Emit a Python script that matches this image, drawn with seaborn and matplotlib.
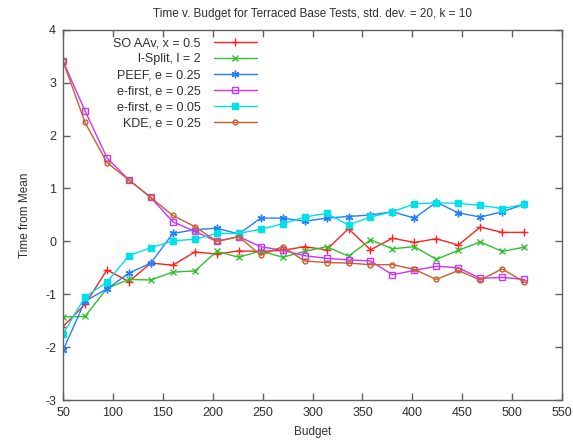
import numpy as np
import pandas as pd
import matplotlib
matplotlib.use("Agg")
import matplotlib.pyplot as plt
import seaborn as sns

# data
budget = [50, 72, 94, 116, 138, 160, 182, 204, 226, 248, 270,
          292, 314, 336, 358, 380, 402, 424, 446, 468, 490, 512]

soaav = [-1.61, -1.19, -0.54, -0.76, -0.41, -0.45, -0.20, -0.24, -0.18, -0.19, -0.17,
         -0.10, -0.16, 0.24, -0.16, 0.06, -0.02, 0.05, -0.07, 0.27, 0.17, 0.17]
lsplit = [-1.43, -1.42, -0.89, -0.72, -0.73, -0.58, -0.56, -0.19, -0.30, -0.18, -0.30,
          -0.19, -0.10, -0.28, 0.03, -0.14, -0.10, -0.34, -0.17, -0.01, -0.19, -0.11]
peef = [-2.06, -1.13, -0.90, -0.60, -0.41, 0.15, 0.22, 0.25, 0.14, 0.44, 0.44,
        0.38, 0.44, 0.47, 0.50, 0.56, 0.44, 0.74, 0.54, 0.46, 0.56, 0.70]
efirst_25 = [3.41, 2.47, 1.58, 1.16, 0.83, 0.37, 0.19, 0.00, 0.09, -0.10, -0.17,
             -0.27, -0.32, -0.35, -0.37, -0.63, -0.55, -0.47, -0.50, -0.70, -0.68, -0.72]
efirst_05 = [-1.75, -1.05, -0.77, -0.27, -0.12, 0.01, 0.04, 0.15, 0.15, 0.23, 0.33,
             0.46, 0.53, 0.31, 0.46, 0.56, 0.71, 0.73, 0.72, 0.68, 0.62, 0.70]
kde = [3.41, 2.25, 1.49, 1.16, 0.83, 0.49, 0.28, 0.00, 0.09, -0.26, -0.10,
       -0.37, -0.40, -0.41, -0.44, -0.44, -0.53, -0.72, -0.55, -0.73, -0.52, -0.77]

labels = ["SO AAv, x = 0.5", "l-Split, l = 2", "PEEF, e = 0.25",
          "e-first, e = 0.25", "e-first, e = 0.05", "KDE, e = 0.25"]
series = [soaav, lsplit, peef, efirst_25, efirst_05, kde]

sns.set_style("ticks")
plt.rcParams['font.family'] = ['Liberation Sans', 'DejaVu Sans']
plt.rcParams['axes.unicode_minus'] = False

fig = plt.figure(figsize=(5.73, 4.45), dpi=100)
ax = fig.add_axes([0.110, 0.101, 0.871, 0.832])

# gnuplot-like styles: (colour, marker, marker face)
styles = [
    ("#ff2020", "+", None),
    ("#30c030", "x", None),
    ("#2080ff", (6, 2, 0), None),
    ("#cc33ff", "s", "none"),
    ("#00e0e8", "s", None),
    ("#c8602a", "o", "none"),
]
sizes = [5.5, 4.5, 5.5, 4.5, 4.5, 3.5]

for vals, lab, (col, mk, face), ms in zip(series, labels, styles, sizes):
    df = pd.DataFrame({"Budget": budget, "Time": vals})
    kw = dict(marker=mk, markersize=ms, markeredgecolor=col, markeredgewidth=1.0)
    if face is not None:
        kw["markerfacecolor"] = face
    else:
        kw["markerfacecolor"] = col
    sns.lineplot(data=df, x="Budget", y="Time", color=col, linewidth=1.0,
                 label=lab, ax=ax, **kw)

ax.set_xlim(50, 550)
ax.set_ylim(-3, 4)
ax.set_xticks(np.arange(50, 551, 50))
ax.set_yticks(np.arange(-3, 5, 1))

for s in ax.spines.values():
    s.set_color("#606060")
    s.set_linewidth(1.0)
ax.tick_params(direction="in", length=5, width=1, color="#606060",
               top=True, right=True, labelsize=9, labelcolor="#303030", pad=5)

ax.set_xlabel("Budget", fontsize=8.5, color="#303030", labelpad=5)
ax.set_ylabel("Time from Mean", fontsize=8.5, color="#303030", labelpad=10)
ax.set_title("Time v. Budget for Terraced Base Tests, std. dev. = 20, k = 10",
             fontsize=8.5, color="#303030", pad=9)

leg = ax.legend(loc="upper left", bbox_to_anchor=(0.085, 1.0), frameon=False,
                markerfirst=False, handlelength=3.4, fontsize=9,
                labelspacing=0.32, handletextpad=1.1, borderaxespad=0.2)
for t in leg.get_texts():
    t.set_color("#303030")
# right-align the legend texts like gnuplot does
for vp in leg._legend_handle_box.get_children():
    vp.align = "right"

fig.savefig("out.png", dpi=100)
